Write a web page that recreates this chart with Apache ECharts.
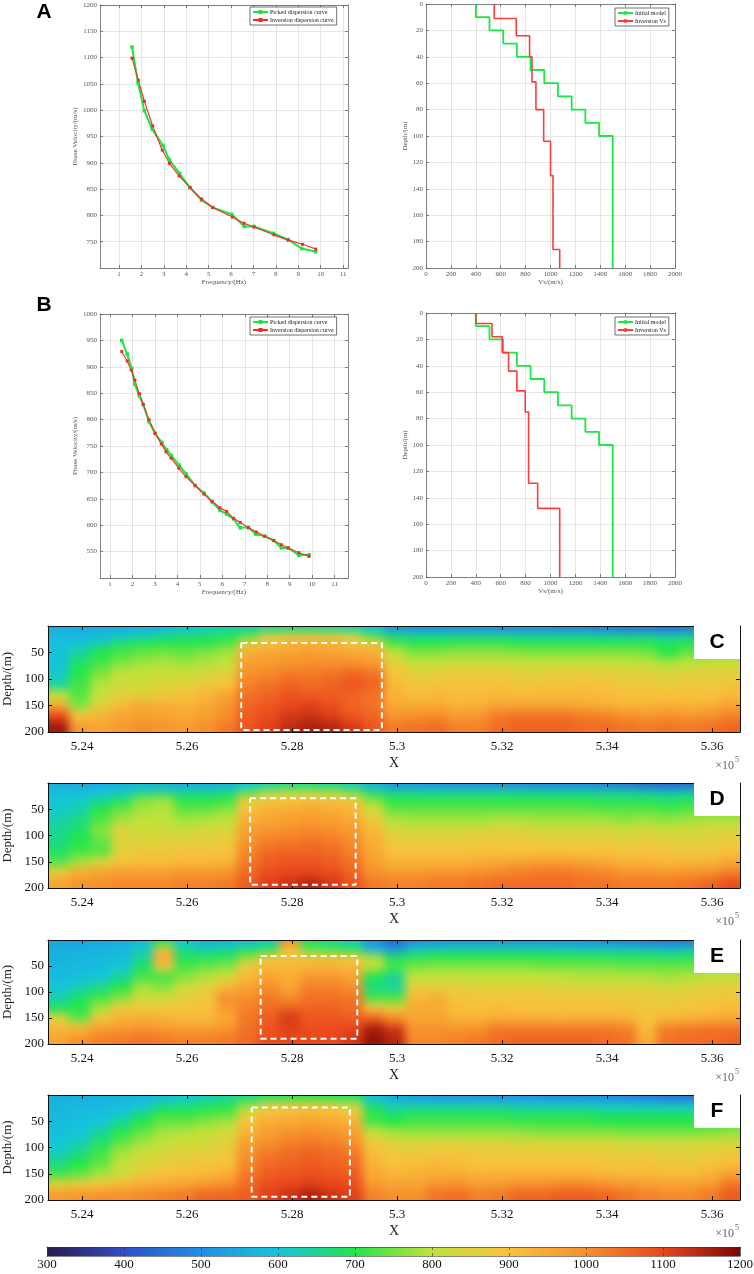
<!DOCTYPE html>
<html>
<head>
<meta charset="utf-8">
<script src="https://cdn.jsdelivr.net/npm/echarts@6/dist/echarts.min.js"></script>
<style>
  html, body { margin: 0; padding: 0; background: #fff; }
  #wrap { position: relative; width: 754px; height: 1274px; }
  #sections, #main { position: absolute; left: 0; top: 0; width: 754px; height: 1274px; }
  #sections { filter: blur(5px); }
</style>
</head>
<body>
<div id="wrap">
  <div id="sections"></div>
  <div id="main"></div>
</div>
<script>
// ---------- A / B : dispersion curves ----------
const freqPickA = [1.58, 1.85, 2.13, 2.48, 2.96, 3.24, 3.70, 4.16, 4.68, 5.18, 6.03, 6.59, 7.02, 7.88, 8.55, 9.15, 9.78];
const velPickA  = [1120, 1051, 999, 964, 933, 906, 880, 853, 829, 815, 802, 779, 779, 766, 754, 737, 731];
const freqInvA  = [1.58, 1.86, 2.13, 2.50, 2.93, 3.25, 3.68, 4.17, 4.69, 5.18, 6.06, 6.58, 7.03, 7.91, 8.55, 9.19, 9.78];
const velInvA   = [1099, 1057, 1017, 970, 924, 899, 875, 853, 831, 815, 797, 785, 778, 763, 753, 745, 736];

const freqPickB = [1.52, 1.76, 1.96, 2.10, 2.30, 2.48, 2.73, 3.00, 3.30, 3.52, 3.72, 4.07, 4.39, 4.79, 5.18, 5.55, 5.90, 6.19, 6.50, 6.80, 7.16, 7.49, 7.89, 8.29, 8.63, 8.93, 9.41, 9.86];
const velPickB  = [950, 924, 897, 867, 845, 828, 796, 774, 757, 743, 732, 714, 697, 675, 661, 644, 628, 621, 612, 595, 596, 583, 579, 571, 557, 557, 543, 544];
const freqInvB  = [1.52, 1.76, 1.94, 2.10, 2.30, 2.48, 2.73, 3.01, 3.28, 3.49, 3.72, 4.06, 4.38, 4.79, 5.18, 5.55, 5.89, 6.19, 6.50, 6.80, 7.16, 7.52, 7.89, 8.29, 8.63, 8.93, 9.41, 9.86];
const velInvB   = [929, 911, 894, 875, 849, 829, 800, 774, 754, 739, 727, 708, 692, 675, 659, 645, 633, 626, 613, 605, 595, 587, 579, 571, 563, 557, 548, 541];

// layered Vs models (layer top depth, velocity)
const initTops = [0, 10, 20, 30, 40, 50, 60, 70, 80, 90, 100];
const initVs   = [400, 510, 620, 730, 840, 950, 1060, 1170, 1280, 1390, 1500];
const invTopsA = [0, 11, 24, 40, 59, 80, 104, 130, 186];
const invVsA   = [548, 725, 832, 851, 883, 945, 1000, 1020, 1074];
const invTopsB = [0, 8, 18, 30, 44, 59, 75, 129, 148];
const invVsB   = [400, 530, 612, 663, 730, 797, 824, 897, 1074];
const modelBottom = 200;

const freqTicks = [1, 2, 3, 4, 5, 6, 7, 8, 9, 10, 11];

// ---------- C-F : Vs sections ----------
const xTicks = [5.24, 5.26, 5.28, 5.3, 5.32, 5.34, 5.36];
const xCells = Array.from({ length: 34 }, (_, i) => +(5.2335 + 0.004 * i).toFixed(4));
const depthEdges = [0, 12, 25, 40, 60, 80, 100, 120, 140, 160, 180, 200];

const vsC = [
  [560,555,555,560,565,570,590,610,630, 640,650,660,660,650,630,590, 510,500,500,500,495,490,490,490,485,480,470,450,460,440,460,470,480],
  [575,570,575,590,610,640,670,680,690, 720,850,880,890,880,820,720, 660,650,650,650,650,650,640,640,640,640,630,630,640,620,630,640,650],
  [585,590,620,680,700,700,700,700,720, 860,910,930,940,930,900,880, 720,700,700,710,710,710,700,700,700,700,700,700,700,690,700,710,720],
  [590,640,700,720,740,750,740,760,780, 940,950,960,970,960,950,940, 800,760,760,770,770,770,760,760,760,760,760,760,750,700,740,760,770],
  [595,680,720,760,780,790,780,790,800, 970,980,990,1000,1000,1000,980, 860,810,810,820,820,820,810,810,810,810,810,800,800,790,800,810,820],
  [610,700,760,800,800,810,820,830,850, 1000,1010,1030,1030,1040,1060,1040, 900,860,860,870,870,870,860,860,870,870,860,850,850,840,850,860,860],
  [640,720,790,820,830,840,860,880,900, 1020,1040,1060,1050,1060,1080,1060, 920,890,890,900,900,900,890,890,890,900,900,880,880,870,880,880,890],
  [800,730,800,850,860,880,900,920,960, 1040,1060,1080,1070,1070,1060,1040, 930,910,920,910,910,920,910,920,920,920,910,900,900,900,900,900,920],
  [950,760,860,920,950,940,930,950,990, 1060,1080,1100,1110,1090,1060,1040, 950,950,950,930,940,960,960,960,960,950,940,930,930,940,930,940,960],
  [1100,900,930,960,970,960,950,970,1000, 1070,1090,1120,1130,1110,1080,1060, 990,1000,1010,980,990,1030,1040,1040,1040,1030,1020,1000,990,1000,990,1000,1020],
  [1170,980,960,980,1000,990,980,1000,1030, 1080,1110,1140,1160,1150,1120,1080, 1030,1040,1050,1020,1020,1050,1060,1060,1060,1050,1050,1040,1030,1040,1030,1040,1060]
];
const vsD = [
  [550,550,555,560,565,560,550,550,560, 600,640,660,660,650,620,560, 510, 510,505,500,500,500,495,490,490,490,480,460,440,430,440,460,480],
  [590,590,600,610,650,660,650,650,660, 740,790,800,800,790,760,680, 650, 650,650,650,650,650,650,650,640,640,640,640,630,620,630,640,650],
  [600,610,640,680,760,780,700,700,710, 860,890,900,910,900,880,760, 700, 700,700,700,700,700,700,700,700,700,690,690,690,680,690,700,700],
  [610,630,700,740,780,790,740,740,760, 900,930,940,950,940,920,820, 740, 740,740,740,740,740,740,740,740,740,730,730,730,720,730,740,740],
  [630,660,730,780,800,800,780,790,800, 940,960,970,980,970,950,880, 790, 780,780,780,780,790,790,780,780,780,780,770,780,770,780,790,790],
  [650,680,760,860,820,820,820,830,840, 970,990,1000,1010,1000,980,920, 830, 830,830,830,840,840,840,830,830,830,830,820,830,820,830,840,840],
  [660,700,740,840,850,850,860,860,870, 990,1020,1030,1040,1030,1000,940, 870, 870,870,870,880,880,880,870,870,870,870,860,870,860,850,860,870],
  [680,720,730,860,880,880,890,890,900, 1010,1050,1060,1060,1050,1020,950, 900, 900,900,900,900,900,900,900,900,900,900,890,900,890,880,880,900],
  [730,780,840,900,910,910,920,920,930, 1030,1070,1080,1080,1070,1040,970, 930, 930,930,930,940,950,960,970,970,960,950,930,930,920,920,930,950],
  [880,940,960,970,970,970,980,980,990, 1050,1090,1100,1100,1090,1060,1000, 980, 980,990,990,1000,1010,1020,1030,1030,1020,1010,990,990,980,990,1000,1020],
  [960,990,1000,1010,1010,1010,1020,1020,1030, 1070,1110,1130,1150,1120,1080,1030, 1020, 1020,1030,1030,1040,1050,1050,1050,1050,1040,1040,1030,1030,1030,1040,1060,1090]
];
const vsE = [
  [540,540,545,550,580,700,600,560,560, 580,620,1000,680,660,620,500, 450, 490,500,510,510,510,510,510,505,500,490,480,470,460,460,470,490],
  [560,560,565,570,620,900,660,640,650, 680,700,900,740,720,700,560, 500, 620,630,640,640,640,640,640,630,630,630,620,620,610,620,630,640],
  [565,570,575,580,640,960,680,680,690, 760,880,880,880,880,870,780, 680, 690,700,700,700,700,700,700,700,690,690,690,690,680,690,700,700],
  [570,575,580,600,680,900,720,740,760, 880,920,920,930,930,920,820, 720, 750,760,760,760,760,760,750,750,750,750,740,740,740,740,750,760],
  [580,590,600,640,720,720,760,790,820, 920,960,940,980,980,960,700, 650, 800,800,810,800,800,800,800,800,790,790,790,790,780,790,800,810],
  [600,620,660,700,780,760,820,850,920, 960,1000,960,1020,1020,1000,660, 640, 860,860,850,850,850,850,850,840,840,840,840,840,830,840,850,860],
  [630,680,720,760,820,820,860,880,1000, 1000,1030,1000,1040,1040,1030,720, 720, 920,940,900,890,890,890,890,880,880,880,880,880,870,870,880,890],
  [680,700,780,880,880,880,890,900,980, 1020,1050,1060,1060,1060,1050,900, 860, 940,950,910,900,910,900,900,900,900,900,890,880,880,890,900,910],
  [840,740,880,930,940,930,920,920,950, 1030,1070,1120,1080,1080,1070,1060, 1000, 960,960,930,930,940,940,940,930,940,940,930,900,920,930,940,950],
  [920,920,970,980,990,980,970,970,990, 1040,1080,1110,1090,1090,1100,1160, 1120, 990,990,990,1000,1030,1030,1030,1030,1030,1030,1020,920,1020,1030,1040,1040],
  [960,1000,1020,1030,1040,1030,1020,1020,1030, 1050,1090,1100,1100,1100,1120,1180, 1150, 1010,1010,1020,1030,1050,1060,1060,1060,1060,1050,1040,940,1040,1050,1050,1060]
];
const vsF = [
  [560,560,560,565,570,580,600,620,640, 660,680,700,700,690,680,580, 540, 520,510,510,500,500,500,500,495,490,490,480,470,450,450,450,480],
  [570,570,575,580,600,640,660,680,690, 760,860,880,880,870,820,660, 620, 620,620,620,620,620,610,610,610,610,600,600,600,600,600,610,620],
  [575,580,585,600,640,700,700,710,720, 830,900,910,920,910,880,700, 660, 680,680,680,680,680,670,670,670,670,660,660,660,660,660,670,680],
  [580,585,600,640,700,740,740,760,780, 900,940,950,960,950,930,720, 700, 720,720,720,720,720,710,710,710,710,700,700,700,700,700,700,710],
  [585,600,640,700,740,780,790,800,820, 930,970,990,1000,990,970,800, 780, 770,770,770,770,770,770,760,760,760,760,750,750,750,750,760,770],
  [600,620,680,740,780,800,820,830,850, 970,1000,1020,1030,1020,1000,880, 840, 840,840,840,840,840,830,830,830,830,830,820,820,820,820,820,830],
  [620,660,720,780,820,830,850,860,880, 990,1030,1050,1060,1050,1030,910, 880, 880,890,890,880,880,880,880,870,870,870,860,870,860,860,870,880],
  [660,700,740,800,840,860,880,890,900, 1010,1050,1060,1070,1060,1050,930, 900, 910,920,910,900,900,900,900,900,900,890,890,890,880,880,890,910],
  [720,740,780,820,880,900,910,920,940, 1030,1070,1080,1090,1080,1070,950, 930, 930,940,940,930,930,930,930,930,930,920,920,920,910,910,930,960],
  [860,880,900,920,940,950,960,980,1000, 1050,1090,1100,1110,1100,1090,980, 960, 960,990,1000,970,980,1000,1000,1010,1010,1000,980,970,960,960,980,1040],
  [980,990,1000,1000,1010,1020,1030,1060,1060, 1070,1110,1130,1160,1130,1110,1020, 1000, 1000,1040,1050,1020,1030,1060,1060,1070,1070,1060,1040,1020,1010,1010,1030,1070]
];

// dashed boxes [x0, x1, depthTop, depthBottom]
const boxC = [5.2703, 5.2971, 32, 196];
const boxD = [5.2720, 5.2921, 29, 194];
const boxE = [5.2740, 5.2924, 31, 190];
const boxF = [5.2723, 5.2910, 24, 194];

const colorbarRange = [300, 1200];
const jetColors = ['#2b1a50', '#2f4fc8', '#1f8fe6', '#14c6da', '#22e64a', '#c2e23a', '#f8c23c', '#f7902c', '#ea461c', '#7c0606'];

// ---------- helpers ----------
const serif = 'Liberation Serif';
const sans = 'Liberation Sans';
const plain = v => String(v);

function pairs(xs, ys) { return xs.map((x, i) => [x, ys[i]]); }
function steps(tops, vs) {
  const out = [];
  vs.forEach((v, i) => {
    out.push([v, tops[i]]);
    out.push([v, i + 1 < tops.length ? tops[i + 1] : modelBottom]);
  });
  return out;
}
function boxPath(b) { return [[b[0], b[2]], [b[1], b[2]], [b[1], b[3]], [b[0], b[3]], [b[0], b[2]]]; }
function cells(rows) {
  const out = [];
  rows.forEach((row, r) => row.forEach((v, c) => {
    out.push([xCells[c], xCells[c + 1], depthEdges[r], depthEdges[r + 1], v, r, c]);
  }));
  return out;
}

const grids = [
  { left: 100, top: 5, width: 248, height: 263 },   // A left
  { left: 426, top: 4, width: 249, height: 264 },   // A right
  { left: 100, top: 314, width: 248, height: 264 }, // B left
  { left: 426, top: 313, width: 249, height: 264 }, // B right
  { left: 48, top: 626, width: 692, height: 106 },  // C
  { left: 48, top: 783, width: 692, height: 105 },  // D
  { left: 48, top: 940, width: 692, height: 104 },  // E
  { left: 48, top: 1095, width: 692, height: 105 }, // F
  { left: 47, top: 1247, width: 693, height: 9 }    // colour bar
];
grids.forEach(g => { g.outerBoundsMode = 'none'; g.containLabel = false; });

const xAxes = [], yAxes = [];
function axis(o, gi, pos, main) {
  return {
    type: 'value', gridIndex: gi, position: pos, min: o.min, max: o.max, interval: o.interval, inverse: o.inverse,
    z: o.z || 3,
    axisLine: { show: true, onZero: false, lineStyle: { color: o.lineColor, width: o.lineWidth } },
    axisTick: { show: true, inside: true, length: o.tickLen, customValues: o.custom, lineStyle: { color: o.lineColor, width: o.lineWidth } },
    axisLabel: main ? { show: o.fontSize > 0, margin: o.margin, color: o.labelColor, fontSize: o.fontSize, fontFamily: serif, customValues: o.custom, showMinLabel: o.showMin, formatter: plain } : { show: false },
    splitLine: main && o.split ? { show: true, lineStyle: { color: '#dedede', width: 0.8 } } : { show: false },
    name: main ? o.name : '', nameLocation: 'middle', nameGap: o.nameGap,
    nameTextStyle: { fontSize: o.nameSize, fontFamily: serif, color: o.nameColor }
  };
}
function frame(gi, ox, oy) {
  xAxes.push(axis(ox, gi, 'bottom', true), axis(ox, gi, 'top', false));
  yAxes.push(axis(oy, gi, 'left', true), axis(oy, gi, 'right', false));
}
const small = { lineColor: '#666', lineWidth: 0.8, tickLen: 3, margin: 3, labelColor: '#555', fontSize: 7, split: true, nameSize: 7, nameColor: '#555' };
const big = { lineColor: '#111', lineWidth: 1, tickLen: 4, labelColor: '#111', fontSize: 13, split: false, nameColor: '#222' };

frame(0, { ...small, min: 0.15, max: 11.22, custom: freqTicks, name: 'Frequency/(Hz)', nameGap: 11 },
         { ...small, min: 700, max: 1200, interval: 50, showMin: false, name: 'Phase Velocity/(m/s)', nameGap: 20 });
frame(1, { ...small, min: 0, max: 2000, interval: 200, name: 'Vs/(m/s)', nameGap: 11 },
         { ...small, min: 0, max: 200, interval: 20, inverse: true, name: 'Depth/(m)', nameGap: 16 });
frame(2, { ...small, min: 0.55, max: 11.6, custom: freqTicks, name: 'Frequency/(Hz)', nameGap: 11 },
         { ...small, min: 500, max: 1000, interval: 50, showMin: false, name: 'Phase Velocity/(m/s)', nameGap: 20 });
frame(3, { ...small, min: 0, max: 2000, interval: 200, name: 'Vs/(m/s)', nameGap: 11 },
         { ...small, min: 0, max: 200, interval: 20, inverse: true, name: 'Depth/(m)', nameGap: 16 });
const secX = { ...big, min: 5.2335, max: 5.3653, custom: xTicks, margin: 8, name: 'X', nameGap: 24, nameSize: 14 };
const secY = { ...big, min: 0, max: 200, interval: 50, inverse: true, showMin: false, margin: 4, name: 'Depth/(m)', nameGap: 30, nameSize: 13 };
for (let g = 4; g < 8; g++) frame(g, secX, secY);
frame(8, { ...big, min: colorbarRange[0], max: colorbarRange[1], interval: 100, tickLen: 3, lineColor: '#333', lineWidth: 0.6, margin: 2, z: 10 },
         { ...big, min: 0, max: 1, interval: 1, tickLen: 0, lineColor: '#333', lineWidth: 0.6, fontSize: 0, z: 10 });

function legendBox(names, left, top) {
  return {
    orient: 'vertical', left, top, itemWidth: 15, itemHeight: 5, itemGap: 2,
    padding: [2, 3, 2, 2], borderColor: '#333', borderWidth: 0.7, backgroundColor: '#fff',
    selectedMode: false, textStyle: { fontSize: 6, fontFamily: serif, color: '#222', padding: [0, 0, 0, -3] },
    data: names
  };
}

function dispersion(name, xs, ys, gi, color, width, size) {
  return {
    type: 'line', name, data: pairs(xs, ys), xAxisIndex: 2 * gi, yAxisIndex: 2 * gi,
    symbol: 'rect', symbolSize: size, lineStyle: { color, width }, itemStyle: { color }, z: 3
  };
}
function model(name, tops, vs, gi, color, width) {
  return {
    type: 'line', name, data: steps(tops, vs), xAxisIndex: 2 * gi, yAxisIndex: 2 * gi,
    symbol: 'none', lineStyle: { color, width }, itemStyle: { color }, z: 3
  };
}
function dashed(b, gi) {
  return {
    type: 'line', data: boxPath(b), xAxisIndex: 2 * gi, yAxisIndex: 2 * gi, symbol: 'none', silent: true,
    lineStyle: { color: '#fff', width: 2, type: [6, 4] }, z: 5
  };
}

const green = '#14e842', red = '#ff2424';
const series = [
  dispersion('Picked dispersion curve', freqPickA, velPickA, 0, green, 2, 3.5),
  dispersion('Inversion dispersion curve', freqInvA, velInvA, 0, red, 1.1, 3),
  model('Initial model', initTops, initVs, 1, '#19e845', 1.8),
  model('Inversion Vs', invTopsA, invVsA, 1, '#ff3b3b', 1.6),
  dispersion('Picked dispersion curve', freqPickB, velPickB, 2, green, 2, 3.5),
  dispersion('Inversion dispersion curve', freqInvB, velInvB, 2, red, 1.1, 3),
  model('Initial model', initTops, initVs, 3, '#19e845', 1.8),
  model('Inversion Vs', invTopsB, invVsB, 3, '#ff3b3b', 1.6),
  dashed(boxC, 4), dashed(boxD, 5), dashed(boxE, 6), dashed(boxF, 7),
  {
    type: 'custom', data: [[colorbarRange[0], colorbarRange[1], 0, 1]], xAxisIndex: 16, yAxisIndex: 16,
    encode: { x: [0, 1], y: [2, 3] }, silent: true, z: 1,
    renderItem: (params, api) => {
      const a = api.coord([api.value(0), api.value(3)]);
      const b = api.coord([api.value(1), api.value(2)]);
      return {
        type: 'rect', shape: { x: a[0], y: a[1], width: b[0] - a[0], height: b[1] - a[1] },
        style: { fill: new echarts.graphic.LinearGradient(0, 0, 1, 0, jetColors.map((c, i) => ({ offset: i / (jetColors.length - 1), color: c }))) }
      };
    }
  }
];

// panel letters and x10^5 notes
const graphic = [
  { type: 'text', x: 44, y: 12.5, z: 100, style: { text: 'A', fontSize: 21, fontWeight: 'bold', fontFamily: sans, fill: '#000', align: 'center', verticalAlign: 'middle' } },
  { type: 'text', x: 44, y: 305.5, z: 100, style: { text: 'B', fontSize: 21, fontWeight: 'bold', fontFamily: sans, fill: '#000', align: 'center', verticalAlign: 'middle' } }
];
['C', 'D', 'E', 'F'].forEach((letter, i) => {
  const g = grids[4 + i];
  graphic.push(
    { type: 'rect', z: 100, shape: { x: 694, y: g.top, width: 46, height: 33 }, style: { fill: '#fff' } },
    { type: 'text', z: 101, x: 717, y: g.top + 16.5, style: { text: letter, fontSize: 21, fontWeight: 'bold', fontFamily: sans, fill: '#000', align: 'center', verticalAlign: 'middle' } },
    { type: 'text', z: 101, x: 734, y: g.top + g.height + 34, style: { text: '×10', fontSize: 12, fontFamily: serif, fill: '#666', align: 'right', verticalAlign: 'middle' } },
    { type: 'text', z: 101, x: 735, y: g.top + g.height + 28, style: { text: '5', fontSize: 8, fontFamily: serif, fill: '#666', align: 'left', verticalAlign: 'middle' } }
  );
});

const chart = echarts.init(document.getElementById('main'), null, { renderer: 'canvas' });
chart.setOption({
  animation: false,
  backgroundColor: 'transparent',
  grid: grids,
  xAxis: xAxes,
  yAxis: yAxes,
  legend: [
    legendBox(['Picked dispersion curve', 'Inversion dispersion curve'], 250, 7),
    legendBox(['Initial model', 'Inversion Vs'], 615, 8),
    legendBox(['Picked dispersion curve', 'Inversion dispersion curve'], 250, 317),
    legendBox(['Initial model', 'Inversion Vs'], 615, 317)
  ],
  series,
  graphic
});

// ---------- the four sections, drawn on a softened layer under the axes ----------
const secGrids = grids.slice(4, 8);
const bleed = 12;
function drawCell(params, api) {
  const a = api.coord([api.value(0), api.value(2)]);
  const b = api.coord([api.value(1), api.value(3)]);
  const r = api.value(5), c = api.value(6);
  let x0 = a[0], y0 = a[1], x1 = b[0] + 0.6, y1 = b[1] + 0.6;
  if (c === 0) x0 -= bleed;
  if (c === xCells.length - 2) x1 += bleed;
  if (r === 0) y0 -= bleed;
  if (r === depthEdges.length - 2) y1 += bleed;
  return { type: 'rect', shape: { x: x0, y: y0, width: x1 - x0, height: y1 - y0 }, style: { fill: api.visual('color') } };
}
const hidden = (gi, o) => ({ type: 'value', gridIndex: gi, min: o.min, max: o.max, inverse: o.inverse, show: false });
const sections = echarts.init(document.getElementById('sections'), null, { renderer: 'canvas' });
sections.setOption({
  animation: false,
  grid: secGrids,
  xAxis: secGrids.map((g, i) => hidden(i, secX)),
  yAxis: secGrids.map((g, i) => hidden(i, secY)),
  visualMap: {
    type: 'continuous', show: false, min: colorbarRange[0], max: colorbarRange[1], dimension: 4,
    inRange: { color: jetColors }
  },
  series: [vsC, vsD, vsE, vsF].map((rows, i) => ({
    type: 'custom', data: cells(rows), xAxisIndex: i, yAxisIndex: i,
    encode: { x: [0, 1], y: [2, 3] }, renderItem: drawCell, clip: false, silent: true
  }))
});
// keep the softened colours inside each section frame
const clip = secGrids.map(g => `M${g.left} ${g.top}h${g.width}v${g.height}h${-g.width}Z`).join(' ');
document.getElementById('sections').style.clipPath = `path('${clip}')`;
</script>
</body>
</html>
